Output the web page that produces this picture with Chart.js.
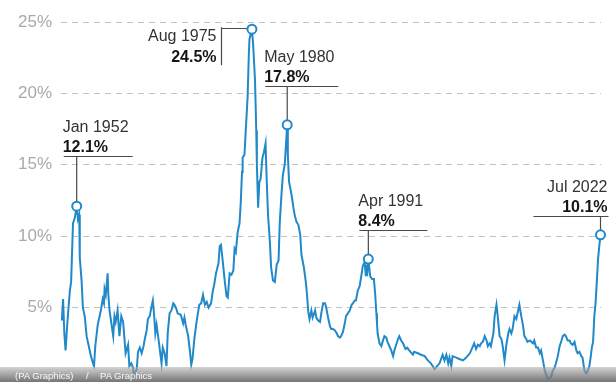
<!DOCTYPE html>
<html>
<head>
<meta charset="utf-8">
<script src="https://cdn.jsdelivr.net/npm/chart.js@4/dist/chart.umd.min.js"></script>
<style>
  html, body { margin: 0; padding: 0; background: #fff; }
  #wrap { position: relative; width: 616px; height: 382px; overflow: hidden; }
  #c { position: absolute; left: 0; top: 0; }
  #credit {
    position: absolute; left: 0; top: 367px; width: 616px; height: 15px;
    background: linear-gradient(to bottom, rgba(175,175,175,0.55), rgba(110,110,110,0.95));
    font-family: "Liberation Sans", Arial, sans-serif; font-size: 9.5px; color: rgba(255,255,255,0.92);
    line-height: 15px; white-space: pre;
  }
  #credit span { position: absolute; top: 1px; }
</style>
</head>
<body>
<div id="wrap">
  <canvas id="c" width="616" height="382"></canvas>
  <div id="credit"><span style="left:15px">(PA Graphics)</span><span style="left:86px">/</span><span style="left:100px">PA Graphics</span></div>
</div>
<script>
// ---- Data ----
const dates = [
"1950-01","1950-03","1950-05","1950-07","1950-10","1951-02","1951-04","1951-07","1951-10","1952-01",
"1952-03","1952-05","1952-06","1952-09","1952-11","1953-02","1953-05","1953-08","1953-12","1954-04",
"1954-05","1954-07","1954-11","1955-01","1955-04","1955-07","1955-09","1955-10","1955-12","1956-03",
"1956-04","1956-06","1956-09","1956-12","1957-02","1957-04","1957-07","1957-10","1958-01","1958-04",
"1958-06","1958-08","1958-12","1959-02","1959-05","1959-08","1959-10","1960-02","1960-04","1960-07",
"1960-10","1961-01","1961-03","1961-06","1961-08","1961-11","1962-02","1962-04","1962-06","1962-08",
"1962-10","1963-02","1963-06","1963-08","1963-11","1964-02","1964-04","1964-07","1964-10","1965-01",
"1965-03","1965-06","1965-08","1966-01","1966-05","1966-07","1966-09","1967-01","1967-04","1967-06",
"1967-08","1967-11","1968-02","1968-04","1968-07","1968-10","1969-01","1969-04","1969-07","1969-10",
"1970-02","1970-05","1970-07","1970-10","1971-02","1971-04","1971-06","1971-09","1971-12","1972-03",
"1972-05","1972-08","1972-11","1973-02","1973-04","1973-06","1973-09","1973-12","1974-02","1974-04",
"1974-05","1974-08","1974-10","1975-01","1975-03","1975-04","1975-08","1975-10","1976-01","1976-03",
"1976-04","1976-06","1976-08","1976-10","1977-01","1977-03","1977-06","1977-08","1977-10","1978-01",
"1978-03","1978-06","1978-09","1978-12","1979-03","1979-05","1979-08","1979-10","1980-01","1980-05",
"1980-06","1980-08","1980-12","1981-03","1981-05","1981-08","1981-11","1982-02","1982-04","1982-08",
"1982-11","1983-01","1983-03","1983-05","1983-08","1983-10","1984-02","1984-04","1984-07","1984-10",
"1984-12","1985-03","1985-06","1985-08","1985-11","1986-02","1986-04","1986-07","1986-10","1987-01",
"1987-03","1987-06","1987-08","1987-11","1988-02","1988-04","1988-07","1988-10","1989-01","1989-03",
"1989-06","1989-08","1989-11","1990-02","1990-05","1990-07","1990-10","1990-12","1991-01","1991-02",
"1991-04","1991-07","1991-10","1992-01","1992-03","1992-05","1992-06","1992-07","1992-10","1993-01",
"1993-03","1993-06","1993-09","1993-11","1994-02","1994-05","1994-08","1994-10","1995-01","1995-04",
"1995-06","1995-09","1995-12","1996-04","1996-07","1996-10","1997-04","1997-06","1997-12","1998-05",
"1998-11","1999-04","1999-09","2000-03","2000-05","2000-11","2001-04","2001-07","2001-10","2002-01",
"2002-03","2002-06","2002-08","2003-02","2003-07","2004-01","2004-06","2004-12","2005-05","2005-07",
"2005-10","2006-01","2006-04","2006-06","2006-09","2006-12","2007-03","2007-05","2007-08","2007-10",
"2008-02","2008-04","2008-07","2008-09","2008-12","2009-03","2009-05","2009-08","2009-11","2010-02",
"2010-04","2010-07","2010-09","2010-12","2011-03","2011-05","2011-08","2011-11","2012-02","2012-04",
"2012-07","2012-09","2013-01","2013-06","2013-08","2013-11","2014-02","2014-05","2014-07","2014-10",
"2015-01","2015-04","2015-06","2015-09","2015-11","2016-02","2016-05","2016-07","2016-10","2017-01",
"2017-04","2017-06","2017-09","2017-11","2018-02","2018-05","2018-07","2018-10","2019-01","2019-04",
"2019-06","2019-09","2019-12","2020-02","2020-05","2020-08","2020-10","2021-01","2021-03","2021-05",
"2021-07","2021-09","2021-11","2022-01","2022-03","2022-05","2022-07"
];
const inflation = [
4.1,5.6,3.2,2.0,4.0,6.2,6.8,10.9,11.3,12.1,
11.2,11.5,8.5,6.8,5.0,4.4,3.0,2.4,1.6,1.0,
0.9,2.3,3.8,4.2,4.8,5.6,5.3,6.3,5.9,7.4,
6.0,4.8,3.9,3.0,4.4,4.0,4.8,3.0,4.4,4.0,
2.9,1.8,2.4,0.9,1.1,0.8,0.2,0.7,1.9,2.2,
1.8,2.3,2.8,3.4,4.2,4.4,5.1,5.5,4.5,3.2,
3.8,2.5,1.1,2.2,1.8,0.9,3.2,4.6,4.8,5.3,
5.2,4.9,4.6,4.5,3.9,4.3,3.8,3.0,1.9,1.0,
1.4,2.8,3.8,4.4,5.2,5.3,5.9,5.2,5.4,5.0,
5.3,6.2,6.6,7.4,8.1,9.3,9.4,8.2,6.9,5.8,
5.7,7.4,7.3,7.6,9.1,8.9,10.3,10.9,12.4,14.5,
15.5,15.7,17.4,19.7,22.7,23.8,24.5,23.4,20.9,17.4,
15.0,12.0,13.8,14.0,15.5,15.8,16.5,13.8,11.5,9.6,
7.8,6.9,6.8,8.0,8.3,11.0,13.1,14.3,15.0,17.8,
15.7,13.8,12.9,12.0,11.5,11.0,10.8,10.1,8.7,7.8,
6.8,5.9,4.7,4.2,4.8,4.3,4.8,4.3,4.1,4.0,
4.6,5.3,5.3,5.0,4.3,3.7,3.5,3.5,3.4,3.2,
3.0,2.9,3.0,3.3,3.9,4.4,4.6,4.8,5.2,5.3,
5.5,5.5,6.2,6.5,7.3,7.9,8.2,7.2,8.0,7.2,
8.4,7.2,7.0,7.0,6.0,4.6,3.9,3.2,2.5,2.3,
2.6,3.0,2.9,2.6,2.3,2.0,1.6,2.0,2.4,2.8,
3.0,2.7,2.5,2.1,2.2,2.0,1.7,1.9,1.8,1.7,
1.6,1.3,1.1,0.7,0.8,1.1,1.7,1.3,1.7,1.1,
1.5,0.9,1.6,1.5,1.4,1.3,1.5,1.8,2.3,2.5,
2.1,2.4,2.3,2.5,2.6,3.0,2.7,2.3,2.5,2.3,
3.2,4.4,5.2,4.4,3.0,2.8,2.3,1.3,2.4,3.2,
3.5,3.2,3.5,4.4,4.2,4.6,5.2,4.4,3.7,3.0,
2.8,2.6,2.7,2.5,2.7,2.2,2.2,1.8,2.0,1.3,
0.6,0.2,0.0,0.1,0.1,0.6,0.8,1.1,1.6,2.3,
2.7,3.0,3.1,3.0,2.7,2.7,2.5,2.4,2.6,2.0,
1.8,1.9,1.6,1.5,0.6,0.4,0.5,0.9,1.5,2.2,
2.6,4.4,5.3,6.8,8.4,9.3,10.1
];
const yTicks = [0, 5, 10, 15, 20, 25];

// Highlighted peaks
const peakLabels = ["Jan 1952", "Aug 1975", "May 1980", "Apr 1991", "Jul 2022"];
const peakDates  = ["1952-01", "1975-08", "1980-05", "1991-04", "2022-07"];
const peakValues = [12.1, 24.5, 17.8, 8.4, 10.1];

// ---- helpers ----
function toYear(s) { const [y, m] = s.split("-").map(Number); return y + (m - 1) / 12; }
const linePoints = dates.map((d, i) => ({ x: toYear(d), y: inflation[i] }));
const peakPoints = peakDates.map((d, i) => ({ x: toYear(d), y: peakValues[i] }));

const BLUE = "#2189c9";
const FONT = '"Liberation Sans", Arial, sans-serif';

// annotation layout (styles/offsets only)
const annLayout = [
  { kind: "above", dy: 50, l: 13, r: 56, align: "left" },
  { kind: "left",  gap: 31 },
  { kind: "above", dy: 39, l: 22, r: 51, align: "left" },
  { kind: "above", dy: 29, l: 9,  r: 59, align: "left" },
  { kind: "above", dy: 19, l: 67, r: 8,  align: "right" }
];

const annotationPlugin = {
  id: "peakAnnotations",
  afterDatasetsDraw(chart) {
    const ctx = chart.ctx, xs = chart.scales.x, ys = chart.scales.y;
    ctx.save();
    peakPoints.forEach((p, i) => {
      const px = xs.getPixelForValue(p.x), py = ys.getPixelForValue(p.y);
      const L = annLayout[i];
      ctx.strokeStyle = "#4a4a4a";
      ctx.lineWidth = 1.2;
      ctx.beginPath();
      let tx, b1, b2, align;
      if (L.kind === "above") {
        const ry = Math.round(py - L.dy) + 0.5;
        ctx.moveTo(px - L.l, ry); ctx.lineTo(px + L.r, ry);
        ctx.moveTo(px, ry); ctx.lineTo(px, py - 5);
        align = L.align;
        tx = align === "left" ? px - L.l - 1 : px + L.r - 1;
        b1 = ry - 25; b2 = ry - 5;
      } else {
        const vx = Math.round(px - L.gap) + 0.5;
        ctx.moveTo(vx, py - 2); ctx.lineTo(vx, py + 36);
        ctx.moveTo(vx, Math.round(py) - 0.5); ctx.lineTo(px - 5, Math.round(py) - 0.5);
        align = "right";
        tx = vx - 5; b1 = py + 12; b2 = py + 33;
      }
      ctx.stroke();
      ctx.textAlign = align;
      ctx.textBaseline = "alphabetic";
      ctx.fillStyle = "#333";
      ctx.font = "16px " + FONT;
      ctx.fillText(peakLabels[i], tx, b1);
      ctx.fillStyle = "#151515";
      ctx.font = "bold 16px " + FONT;
      ctx.fillText(peakValues[i].toFixed(1) + "%", tx, b2);
    });
    ctx.restore();
  }
};

const xMin = 1952 - (76.7 - 61) / 7.43;
const xMax = 1952 + (601 - 76.7) / 7.43;

new Chart(document.getElementById("c"), {
  type: "line",
  data: {
    datasets: [
      {
        data: linePoints, borderColor: BLUE, borderWidth: 2, pointRadius: 0,
        tension: 0, fill: false, clip: false, order: 2
      },
      {
        data: peakPoints, showLine: false, pointRadius: 4.5, pointBorderWidth: 2,
        pointBorderColor: BLUE, pointBackgroundColor: "#fff", clip: false, order: 1
      }
    ]
  },
  options: {
    responsive: false, animation: false, devicePixelRatio: 1,
    layout: { autoPadding: false, padding: { top: 22, bottom: 3, right: 15, left: 0 } },
    plugins: { legend: { display: false }, tooltip: { enabled: false } },
    scales: {
      x: { type: "linear", min: xMin, max: xMax, display: false },
      y: {
        min: 0, max: 25,
        afterFit(s) { s.width = 61; s.paddingTop = 0; s.paddingBottom = 0; },
        afterBuildTicks(s) { s.ticks = yTicks.map(v => ({ value: v })); },
        border: { display: false, dash: [6, 5] },
        grid: {
          drawTicks: false, lineWidth: 1,
          color: c => (c.tick && c.tick.value === 0) ? "rgba(0,0,0,0)" : "#c2c2c2"
        },
        ticks: {
          padding: 9, color: "#a9a9a9", font: { family: FONT, size: 17 },
          callback: v => v === 0 ? "" : v + "%"
        }
      }
    }
  },
  plugins: [annotationPlugin]
});
</script>
</body>
</html>
